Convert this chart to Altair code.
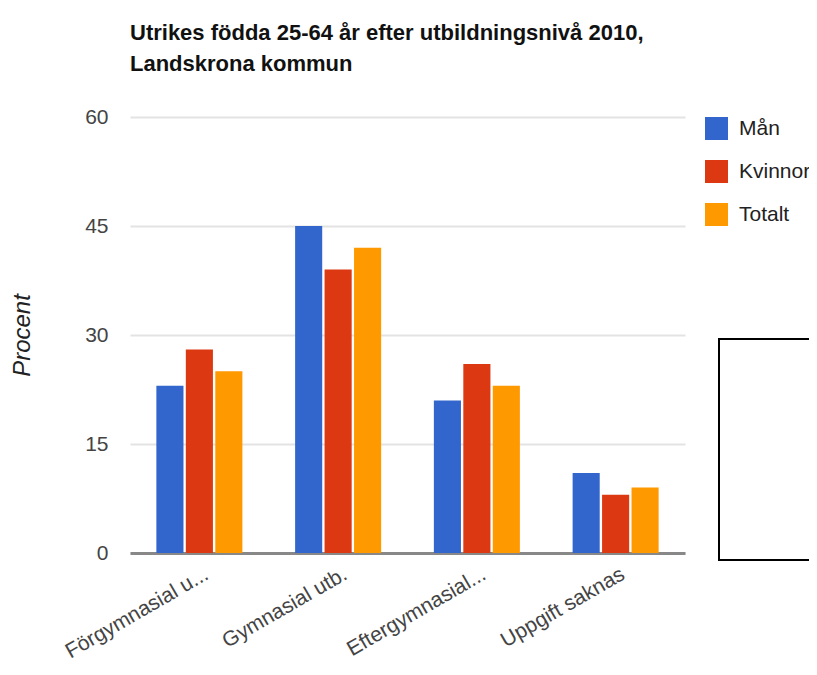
import altair as alt
import pandas as pd

categories = ["Förgymnasial u...", "Gymnasial utb.", "Eftergymnasial...", "Uppgift saknas"]
series = ["Mån", "Kvinnor", "Totalt"]
man = [23, 45, 21, 11]
kvinnor = [28, 39, 26, 8]
totalt = [25, 42, 23, 9]
y_ticks = [0, 15, 30, 45, 60]
colors = ["#3366cc", "#dc3912", "#ff9900"]

rows = []
for s, vals in zip(series, [man, kvinnor, totalt]):
    for c, v in zip(categories, vals):
        rows.append({"Kategori": c, "Serie": s, "Procent": v})
df = pd.DataFrame(rows)

FONT = "Arial, Liberation Sans, sans-serif"

bars = alt.Chart(df).mark_bar().encode(
    x=alt.X("Kategori:N", sort=categories,
            scale=alt.Scale(paddingInner=0.38, paddingOuter=0.19),
            axis=alt.Axis(title=None, labelAngle=-30, labelAlign="right", labelBaseline="top",
                          labelOffset=2, labelPadding=10, labelFontSize=21, labelColor="#444",
                          labelFont=FONT, ticks=False, tickSize=0, domainColor="#888",
                          domainWidth=3, grid=False, labelLimit=400)),
    xOffset=alt.XOffset("Serie:N", sort=series, scale=alt.Scale(paddingInner=0.08, paddingOuter=0)),
    y=alt.Y("Procent:Q", scale=alt.Scale(domain=[0, 60], nice=False),
            axis=alt.Axis(values=y_ticks, title="Procent", titleFontStyle="italic",
                          titleFontWeight="normal", titleFontSize=24, titleColor="#222",
                          titleFont=FONT, titleX=-108, titleY=218, titleAngle=270,
                          titleAlign="center", titleBaseline="middle",
                          labelFontSize=21, labelColor="#444", labelFont=FONT,
                          labelPadding=22, ticks=False, tickSize=0, domain=False,
                          gridColor="#e3e3e3", gridWidth=2)),
    color=alt.Color("Serie:N", sort=series, scale=alt.Scale(domain=series, range=colors),
                    legend=alt.Legend(title=None, orient="right", offset=20, padding=0,
                                      symbolType="square", symbolSize=529, symbolStrokeWidth=0,
                                      rowPadding=20, labelFontSize=21, labelFont=FONT,
                                      labelColor="#222", labelOffset=11)),
)

box = alt.Chart(pd.DataFrame({"b": [1]})).mark_rect(
    fill="white", stroke="black", strokeWidth=2
).encode(
    x=alt.value(589), x2=alt.value(720), y=alt.value(222), y2=alt.value(443)
)

chart = alt.layer(bars, box).properties(
    width=555, height=436,
    padding={"left": 122, "top": 109, "right": 124, "bottom": 114},
    autosize=alt.AutoSizeParams(type="none"),
    title=alt.TitleParams(
        text=["Utrikes födda 25-64 år efter utbildningsnivå 2010,", "Landskrona kommun"],
        anchor="start", frame="group", fontSize=22, fontWeight="bold", font=FONT,
        color="#111", lineHeight=31, offset=30),
).configure_view(stroke=None)

chart.save("out.html", embed_options={"renderer": "svg", "actions": False})
